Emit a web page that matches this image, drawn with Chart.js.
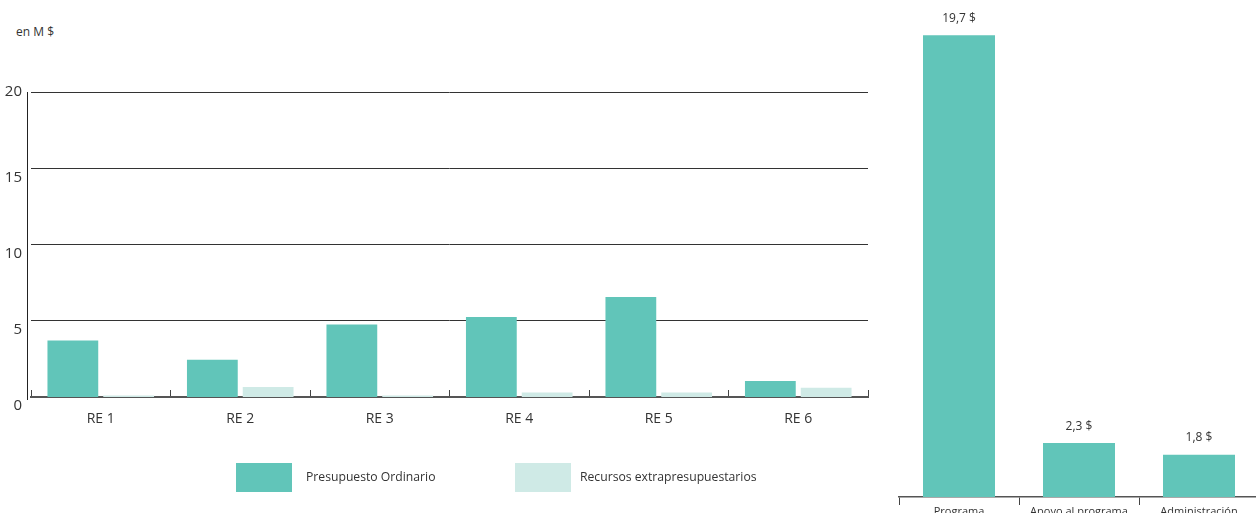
<!DOCTYPE html>
<html>
<head>
<meta charset="utf-8">
<script src="https://cdn.jsdelivr.net/npm/chart.js@4"></script>
<style>
  html, body { margin: 0; padding: 0; background: #fff; }
  body { width: 1256px; height: 513px; position: relative; overflow: hidden; font-family: "Open Sans", sans-serif; color: #333; }
  #left { position: absolute; left: 0; top: 0; width: 880px; height: 513px; }
  #rightWrap { position: absolute; left: 880px; top: 0; width: 376px; height: 513px; overflow: hidden; }
  #right { position: absolute; left: 0; top: 0; }
  .unit { position: absolute; left: 16px; top: 23px; font-size: 12px; }
  .lg-box { position: absolute; top: 463px; width: 56px; height: 29px; }
  .lg-text { position: absolute; top: 468px; font-size: 12.2px; line-height: 18px; }
</style>
</head>
<body>
<div class="unit">en M $</div>
<canvas id="left" width="880" height="513"></canvas>
<div id="rightWrap"><canvas id="right" width="400" height="513"></canvas></div>
<div class="lg-box" style="left:236px;background:#61c5b9"></div>
<div class="lg-text" style="left:306px">Presupuesto Ordinario</div>
<div class="lg-box" style="left:515px;background:#cfeae6"></div>
<div class="lg-text" style="left:580px">Recursos extrapresupuestarios</div>
<script>
// Budget by expected result (millions of dollars)
const resultados = ['RE 1', 'RE 2', 'RE 3', 'RE 4', 'RE 5', 'RE 6'];
const presupuestoOrdinario = [3.7, 2.45, 4.75, 5.25, 6.55, 1.05];
const recursosExtra = [0.1, 0.65, 0.1, 0.3, 0.3, 0.6];
const yTicks = [0, 5, 10, 15, 20];

// Budget by type of activity
const categorias = ['Programa', 'Apoyo al programa', 'Administración'];
const montos = [19.7, 2.3, 1.8];

const TEAL = '#61c5b9';
const LIGHT = '#cfeae6';
const FONT = '"Open Sans", sans-serif';

// vertical value axis drawn a few pixels left of the plot area
const valueAxisLine = {
  id: 'valueAxisLine',
  afterDraw(chart) {
    const { ctx, chartArea } = chart;
    const x = Math.round(chartArea.left - 4) + 0.5;
    ctx.save();
    ctx.strokeStyle = '#222';
    ctx.lineWidth = 1;
    ctx.beginPath();
    ctx.moveTo(x, chartArea.top);
    ctx.lineTo(x, chartArea.bottom + 3);
    ctx.stroke();
    ctx.restore();
  }
};

new Chart(document.getElementById('left'), {
  type: 'bar',
  data: {
    labels: resultados,
    datasets: [
      { label: 'Presupuesto Ordinario', data: presupuestoOrdinario, backgroundColor: TEAL,
        categoryPercentage: 0.80, barPercentage: 0.91 },
      { label: 'Recursos extrapresupuestarios', data: recursosExtra, backgroundColor: LIGHT,
        categoryPercentage: 0.80, barPercentage: 0.91 }
    ]
  },
  options: {
    responsive: false,
    animation: false,
    devicePixelRatio: 1,
    layout: { padding: { top: 92, right: 12, left: 0, bottom: 0 } },
    plugins: { legend: { display: false }, tooltip: { enabled: false } },
    scales: {
      x: {
        offset: true,
        afterFit: s => { s.height = 116; },
        grid: { offset: true, drawOnChartArea: false, drawTicks: true, tickLength: -7, color: '#444', lineWidth: 1 },
        border: { display: true, color: '#555', width: 2 },
        ticks: { color: '#333', font: { family: FONT, size: 14 }, padding: 21 }
      },
      y: {
        min: 0, max: 20,
        afterFit: s => { s.width = 31; },
        afterBuildTicks: s => { s.ticks = yTicks.map(v => ({ value: v })); },
        grid: {
          drawTicks: false,
          color: '#333',
          lineWidth: c => (c.tick && c.tick.value === 0 ? 0 : 1)
        },
        border: { display: false },
        ticks: {
          color: '#333', font: { family: FONT, size: 15 }, padding: 9, labelOffset: 9,
          callback: v => (v === 20 ? ['20', ''] : String(v))
        }
      }
    }
  },
  plugins: [valueAxisLine]
});

// value labels above the activity bars
const valueLabels = {
  id: 'valueLabels',
  afterDatasetsDraw(chart) {
    const ctx = chart.ctx;
    const meta = chart.getDatasetMeta(0);
    ctx.save();
    ctx.fillStyle = '#333';
    ctx.font = '12px ' + FONT;
    ctx.textAlign = 'center';
    ctx.textBaseline = 'middle';
    meta.data.forEach((bar, i) => {
      const v = chart.data.datasets[0].data[i];
      ctx.fillText(v.toFixed(1).replace('.', ',') + ' $', bar.x, bar.y - 17);
    });
    ctx.restore();
  }
};

new Chart(document.getElementById('right'), {
  type: 'bar',
  data: {
    labels: categorias,
    datasets: [
      { label: 'Total', data: montos, backgroundColor: TEAL, categoryPercentage: 1, barPercentage: 0.6 }
    ]
  },
  options: {
    responsive: false,
    animation: false,
    devicePixelRatio: 1,
    layout: { padding: { top: 0, right: 21, left: 19, bottom: 0 } },
    plugins: { legend: { display: false }, tooltip: { enabled: false } },
    scales: {
      x: {
        offset: true,
        afterFit: s => { s.height = 16; },
        grid: { offset: true, drawOnChartArea: false, drawTicks: true, tickLength: 8, color: '#444', lineWidth: 1 },
        border: { display: true, color: '#555', width: 1.5 },
        ticks: { color: '#333', font: { family: FONT, size: 11 }, padding: 0, maxRotation: 0, autoSkip: false }
      },
      y: { display: false, min: 0, max: 21.2 }
    }
  },
  plugins: [valueLabels]
});
</script>
</body>
</html>
